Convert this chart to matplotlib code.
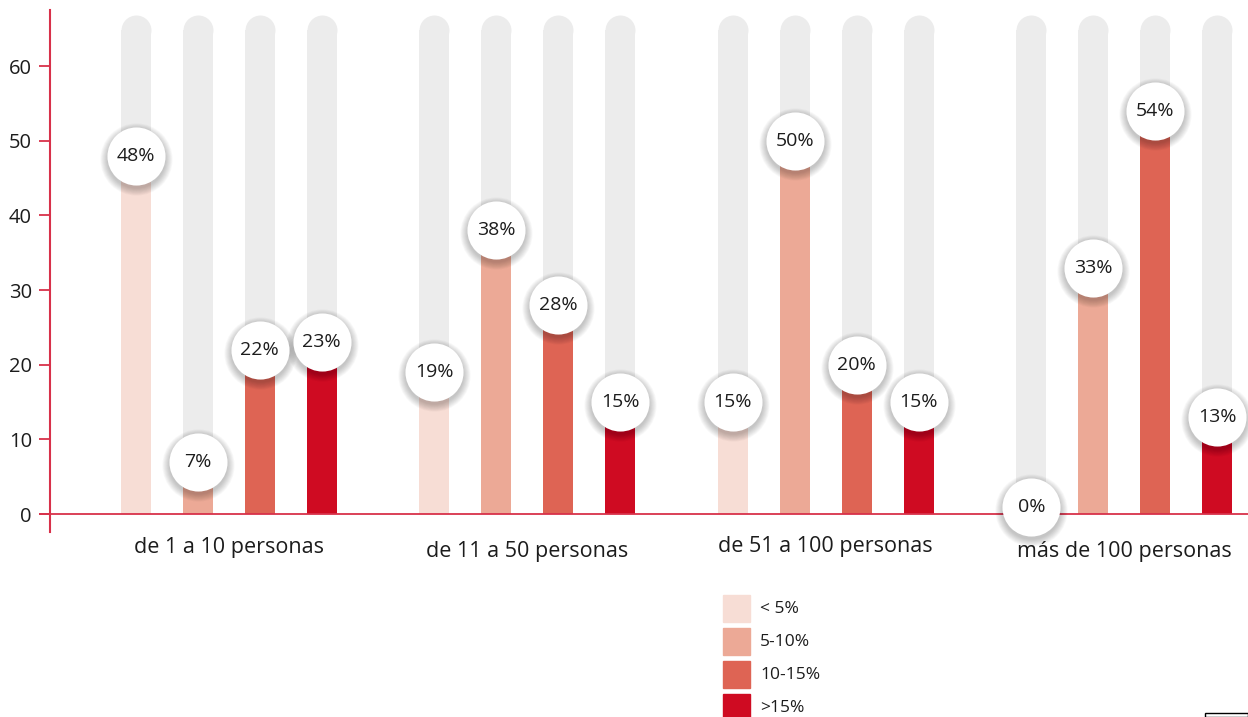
import numpy as np
import matplotlib
matplotlib.use("Agg")
import matplotlib.pyplot as plt
from matplotlib.patches import Rectangle
from matplotlib.transforms import offset_copy

plt.rcParams['font.family'] = ['Open Sans', 'DejaVu Sans']

# datos
grupos = ["de 1 a 10 personas", "de 11 a 50 personas", "de 51 a 100 personas", "más de 100 personas"]
series = ["< 5%", "5-10%", "10-15%", ">15%"]
menos_5 = [48, 19, 15, 0]
de_5_10 = [7, 38, 50, 33]
de_10_15 = [22, 28, 20, 54]
mas_15 = [23, 15, 15, 13]
valores = [menos_5, de_5_10, de_10_15, mas_15]
yticks = [0, 10, 20, 30, 40, 50, 60]

colores = ["#f7ddd5", "#eca996", "#de6454", "#cf0b22"]
gris = "#ececec"
rojo_eje = "#d8314a"
texto = "#1c1c1c"

W, H = 1248, 717
fig = plt.figure(figsize=(W / 100, H / 100), dpi=100)
# ejes colocados en pixeles
ax = fig.add_axes([50 / W, (H - 532) / H, (W - 50) / W, 522 / H])
ax.set_ylim(-2.4, 67.5)
ax.set_xlim(-2.879, 16.44)

sep_grupo = 4.815
ancho = 0.484
offsets = np.array([-1.5, -0.5, 0.5, 1.5])
centros = np.arange(len(grupos)) * sep_grupo

tope_gris = 64.8
cap_size = 21.6 ** 2  # diametro = ancho de barra en pt

for i, serie in enumerate(series):
    xs = centros + offsets[i]
    ax.bar(xs, [tope_gris] * len(xs), width=ancho, color=gris, zorder=1)
    ax.scatter(xs, [tope_gris] * len(xs), s=cap_size, color=gris, marker='o',
               linewidths=0, zorder=1)
    ax.bar(xs, valores[i], width=ancho, color=colores[i], zorder=2)

# circulos con etiqueta (sombra difusa)
sombra = offset_copy(ax.transData, fig=fig, x=0, y=-3, units='dots')
tam = 1750
for i, serie in enumerate(series):
    xs = centros + offsets[i]
    for x, v in zip(xs, valores[i]):
        yc = max(v, 1)  # que no tape la etiqueta del grupo
        for k in np.linspace(1.55, 1.0, 10):
            ax.scatter([x], [yc], s=tam * k, color="#000000", alpha=0.025,
                       linewidths=0, transform=sombra, zorder=3, clip_on=False)
        ax.scatter([x], [yc], s=tam, color="white", linewidths=0, zorder=4,
                   clip_on=False)
        ax.text(x, yc, f"{v}%", ha='center', va='center', fontsize=14,
                color=texto, zorder=5, clip_on=False)

# ejes
ax.axhline(0, color=rojo_eje, lw=1.3, zorder=2.5)
ax.plot([-2.879 - 10 / 62, -2.879], [0, 0], color=rojo_eje, lw=1.3,
        clip_on=False)
for s in ["top", "right", "bottom"]:
    ax.spines[s].set_visible(False)
ax.spines["left"].set_color(rojo_eje)
ax.spines["left"].set_linewidth(1.5)
ax.set_yticks(yticks)
ax.tick_params(axis='y', colors=rojo_eje, length=8, width=1.3, labelsize=14.5,
               labelcolor=texto, pad=5)
ax.set_xticks([])

# etiquetas de grupo
desp = [-33, -37, -32, -37]
for c, g, d in zip(centros, grupos, desp):
    t = offset_copy(ax.transData, fig=fig, x=0, y=d, units='dots')
    ax.text(c, 0, g, transform=t, ha='center', va='center', fontsize=15.5,
            color=texto, clip_on=False, zorder=6)

# leyenda
for i, serie in enumerate(series):
    y0 = 595 + i * 33
    fig.add_artist(Rectangle((723 / W, 1 - (y0 + 27) / H), 27 / W, 27 / H,
                             transform=fig.transFigure, color=colores[i]))
    fig.text(760 / W, 1 - (y0 + 14) / H, serie, ha='left', va='center',
             fontsize=12.5, color=texto)

fig.add_artist(Rectangle((1205 / W, 0), 43 / W, 4 / H, transform=fig.transFigure,
                         fill=False, edgecolor="black", lw=1))

fig.savefig("out.png", dpi=100)
